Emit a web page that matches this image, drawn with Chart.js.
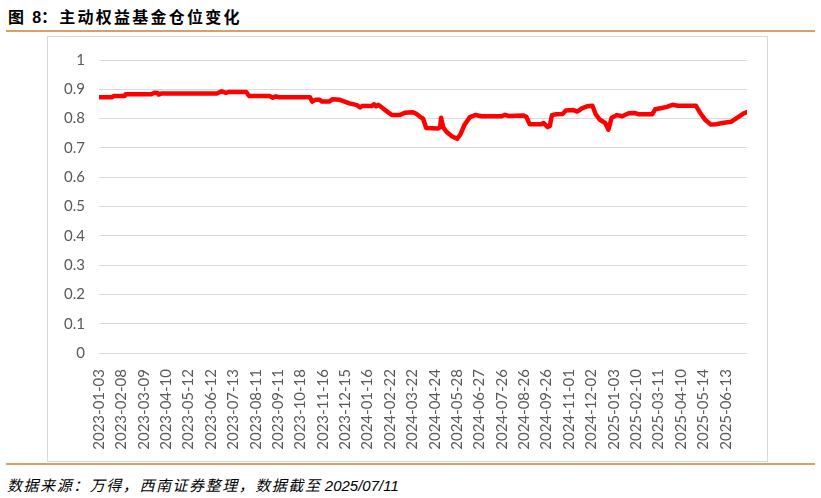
<!DOCTYPE html>
<html>
<head>
<meta charset="utf-8">
<script src="https://cdn.jsdelivr.net/npm/chart.js@4"></script>
<style>
  body { margin: 0; width: 821px; height: 498px; background: #fff; position: relative; overflow: hidden; }
  .title { position: absolute; left: 8px; top: 4px; font: bold 16px "Noto Sans CJK SC", sans-serif; letter-spacing: 2.25px; color: #000; }
  .title .num { font-family: "Liberation Sans", sans-serif; letter-spacing: 0; }
  .rule { position: absolute; left: 6px; width: 809px; height: 2px; background: #D9A066; }
  .box { position: absolute; left: 47px; top: 36px; width: 721px; height: 426px; border: 1px solid #d9d9d9; box-sizing: border-box; }
  .note { position: absolute; left: 7px; top: 474px; font: italic 15px "Noto Sans CJK SC", sans-serif; color: #000; }
  .note .cn { letter-spacing: 1.55px; }
  .note .en { font-family: "Liberation Sans", sans-serif; }
</style>
</head>
<body>
<div class="title">图 <span class="num">8</span>：主动权益基金仓位变化</div>
<div class="rule" style="top:30px"></div>
<div class="box"><canvas id="positionChart"></canvas></div>
<div class="rule" style="top:463px"></div>
<div class="note"><span class="cn">数据来源：万得，西南证券整理，数据截至</span> <span class="en">2025/07/11</span></div>

<script>
// trading-day index of each turning point, and the position ratio there
const dayIndex = [0, 12, 14, 24, 25, 49, 52, 55, 56, 59, 111, 113, 115, 119, 122, 138, 141, 160, 163, 166, 169,
  198, 200, 203, 207, 209, 216, 219, 226, 235, 242, 245, 247, 256, 258, 260, 262, 266, 271, 275, 282,
  287, 294, 297, 301, 304, 307, 318, 320, 321, 323, 326, 331, 336, 339, 343, 348, 353, 359, 367, 378,
  381, 384, 398, 401, 404, 415, 417, 421, 423, 425, 429, 435, 438, 445, 449, 453, 458, 463, 466, 470,
  475, 478, 481, 486, 491, 497, 503, 506, 519, 522, 528, 533, 538, 543, 560, 564, 569, 574, 579, 585,
  593, 599, 605, 608];
const positionRatio = [0.873, 0.873, 0.877, 0.877, 0.883, 0.883, 0.888, 0.887, 0.882, 0.886, 0.886, 0.890, 0.893, 0.888, 0.891, 0.891, 0.877, 0.877, 0.871, 0.876, 0.873,
  0.873, 0.858, 0.864, 0.864, 0.858, 0.858, 0.866, 0.864, 0.852, 0.846, 0.838, 0.843, 0.843, 0.849, 0.842, 0.847, 0.836, 0.822, 0.812, 0.812,
  0.820, 0.822, 0.818, 0.807, 0.800, 0.768, 0.766, 0.770, 0.803, 0.770, 0.755, 0.740, 0.731, 0.745, 0.779, 0.805, 0.812, 0.808, 0.808, 0.808,
  0.813, 0.809, 0.811, 0.806, 0.781, 0.781, 0.785, 0.771, 0.775, 0.812, 0.815, 0.816, 0.828, 0.829, 0.824, 0.835, 0.842, 0.844, 0.815, 0.796,
  0.785, 0.762, 0.803, 0.812, 0.808, 0.818, 0.819, 0.815, 0.815, 0.832, 0.836, 0.840, 0.847, 0.844, 0.844, 0.820, 0.795, 0.780, 0.781, 0.785,
  0.789, 0.803, 0.818, 0.822];
// axis labels, one every 21 trading days
const dateLabels = ['2023-01-03', '2023-02-08', '2023-03-09', '2023-04-10', '2023-05-12', '2023-06-12', '2023-07-13',
  '2023-08-11', '2023-09-11', '2023-10-18', '2023-11-16', '2023-12-15', '2024-01-16', '2024-02-22', '2024-03-22',
  '2024-04-24', '2024-05-28', '2024-06-27', '2024-07-26', '2024-08-26', '2024-09-26', '2024-11-01', '2024-12-02',
  '2025-01-03', '2025-02-10', '2025-03-11', '2025-04-10', '2025-05-14', '2025-06-13'];
const labelStep = 21;
const lastDay = 608;

document.addEventListener("DOMContentLoaded", function () {
  const canvas = document.getElementById('positionChart');
  const tickFont = { family: 'Lato', size: 15 };

  new Chart(canvas.getContext('2d'), {
    type: 'line',
    data: {
      datasets: [{
        label: '仓位',
        data: dayIndex.map((d, i) => ({ x: d, y: positionRatio[i] })),
        borderColor: '#FF0000',
        borderWidth: 4.5,
        borderJoinStyle: 'round',
        borderCapStyle: 'round',
        pointRadius: 0,
        tension: 0
      }]
    },
    options: {
      responsive: true,
      maintainAspectRatio: false,
      animation: false,
      layout: { padding: { top: 16, right: 20, left: 0, bottom: 0 } },
      plugins: { legend: { display: false }, tooltip: { enabled: false } },
      scales: {
        x: {
          type: 'linear',
          min: 0,
          max: lastDay,
          grid: { display: false },
          border: { display: false },
          afterBuildTicks: function (scale) {
            scale.ticks = dateLabels.map((_, k) => ({ value: k * labelStep }));
          },
          afterFit: function (scale) { scale.height = 108; },
          ticks: {
            autoSkip: false,
            minRotation: 90,
            maxRotation: 90,
            padding: 8,
            color: '#595959',
            font: tickFont,
            callback: function (value) { return dateLabels[Math.round(value / labelStep)] || ''; }
          }
        },
        y: {
          min: 0,
          max: 1,
          grid: { color: '#d9d9d9', lineWidth: 1, drawTicks: false },
          border: { display: false },
          afterFit: function (scale) { scale.width = 51; },
          ticks: {
            stepSize: 0.1,
            padding: 14,
            color: '#595959',
            font: tickFont,
            callback: function (value) { return Math.round(value * 10) / 10; }
          }
        }
      }
    }
  });
});
</script>
</body>
</html>
